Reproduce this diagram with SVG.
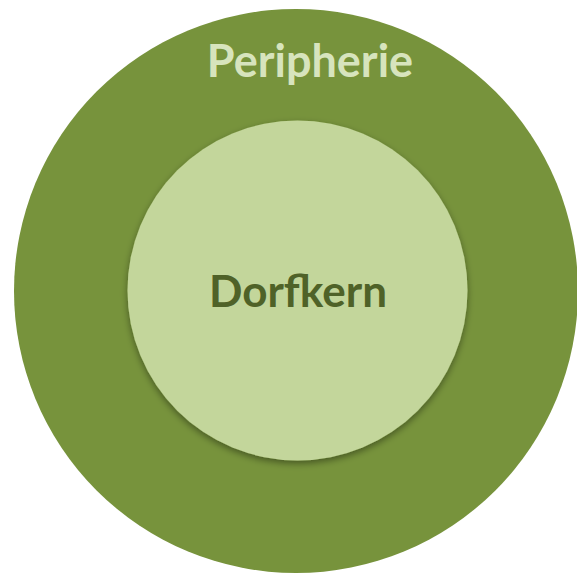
<svg xmlns="http://www.w3.org/2000/svg" width="577" height="577" viewBox="0 0 577 577">
<defs>
<filter id="sh" x="-20%" y="-20%" width="140%" height="140%">
<feDropShadow dx="0" dy="3" stdDeviation="3.5" flood-color="#000" flood-opacity="0.4"/>
</filter>
<style>
.lbl{font-family:Lato,"Open Sans","Liberation Sans",sans-serif;font-weight:bold;text-anchor:middle;font-size:44px}
</style>
</defs>
<rect width="577" height="577" fill="#fff"/>
<g id="peripherie">
<circle cx="296" cy="291" r="282" fill="#77933C"/>
<text class="lbl" x="310" y="77" fill="#D7E4BD" style="font-size:45px">Peripherie</text>
</g>
<g id="dorfkern">
<circle cx="297.5" cy="290.5" r="170" fill="#C3D69B" filter="url(#sh)"/>
<text class="lbl" x="298" y="307" fill="#4F6228">Dorfkern</text>
</g>
<g id="connectors"/>
</svg>
